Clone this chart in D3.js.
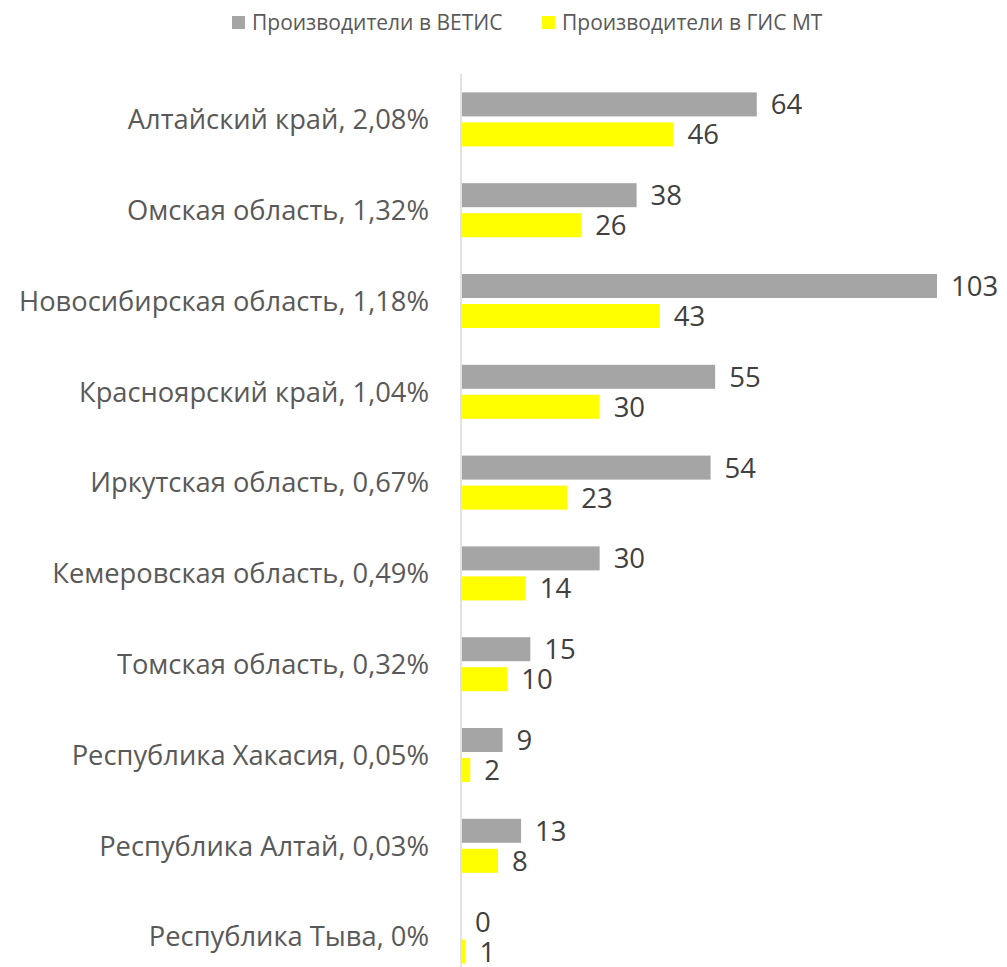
<!DOCTYPE html>
<html><head><meta charset="utf-8">
<script src="https://cdn.jsdelivr.net/npm/d3@7"></script>
<style>body{margin:0;background:#fff}svg{display:block;font-family:"Open Sans",sans-serif}</style>
</head><body><svg id="c" width="1007" height="967"></svg>
<script>
const categories = ["Алтайский край, 2,08%","Омская область, 1,32%","Новосибирская область, 1,18%","Красноярский край, 1,04%","Иркутская область, 0,67%","Кемеровская область, 0,49%","Томская область, 0,32%","Республика Хакасия, 0,05%","Республика Алтай, 0,03%","Республика Тыва, 0%"];
const vetis = [64,38,103,55,54,30,15,9,13,0];
const gismt = [46,26,43,30,23,14,10,2,8,1];
const seriesNames = ["Производители в ВЕТИС","Производители в ГИС МТ"];
const colors = ["#a5a5a5","#ffff00"];

const svg = d3.select("#c");
const x0 = 461;
const x = d3.scaleLinear().domain([0,103]).range([x0, 937]);
const y = d3.scaleBand().domain(categories).range([74, 982]);
const barH = 24, gap = 6;

svg.append("line").attr("x1",x0).attr("x2",x0).attr("y1",74).attr("y2",967)
  .attr("stroke","#d9d9d9").attr("stroke-width",1.5);

const g = svg.append("g");
[vetis, gismt].forEach((vals, si) => {
  categories.forEach((c, i) => {
    const cy = y(c) + y.bandwidth()/2;
    const top = si === 0 ? cy - gap/2 - barH : cy + gap/2;
    g.append("rect").attr("x", x(0)+1).attr("y", top)
      .attr("width", Math.max(0, x(vals[i]) - x(0) - 1)).attr("height", barH)
      .attr("fill", colors[si]);
    g.append("text").attr("x", x(vals[i]) + 14).attr("y", top + barH/2)
      .attr("dy","0.36em").attr("font-size",27.5).attr("fill","#404040").text(vals[i]);
  });
});

categories.forEach(c => {
  svg.append("text").attr("x", 429).attr("y", y(c)+y.bandwidth()/2).attr("dy","0.36em")
    .attr("text-anchor","end").attr("font-size",27.3).attr("fill","#595959").text(c);
});

const leg = [{x:232, tx:252}, {x:542, tx:562}];
seriesNames.forEach((n,i)=>{
  svg.append("rect").attr("x",leg[i].x).attr("y",16).attr("width",13).attr("height",13).attr("fill",colors[i]);
  svg.append("text").attr("x",leg[i].tx).attr("y",22).attr("dy","0.36em").attr("font-size",21)
    .attr("fill","#595959").text(n);
});
</script></body></html>
